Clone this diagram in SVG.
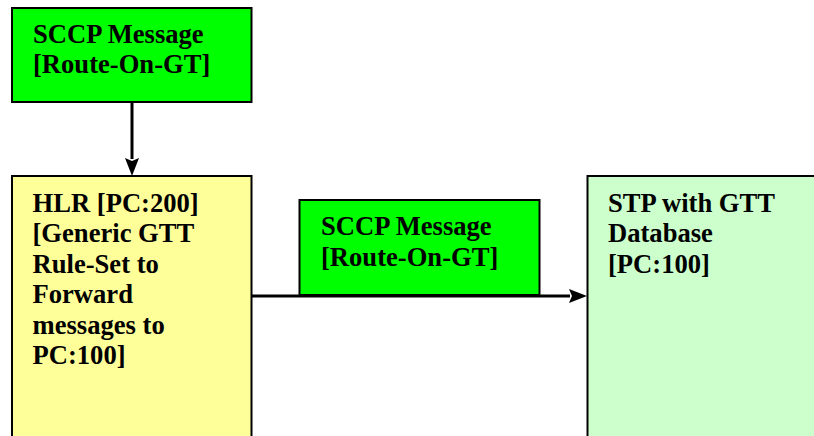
<svg xmlns="http://www.w3.org/2000/svg" width="814" height="436" viewBox="0 0 814 436">
<defs>
<style>
.box{stroke:#000;stroke-width:2}
.t{font-family:"Liberation Serif","Times New Roman",serif;font-weight:bold;font-size:26.6px;fill:#000}
.c{stroke:#000;stroke-width:3;fill:none}
</style>
<marker id="ah" viewBox="0 0 17 14" refX="0" refY="7" markerWidth="17" markerHeight="14" markerUnits="userSpaceOnUse" orient="auto" overflow="visible">
<path d="M-1,0 L17,7 L-1,14 L2,7 Z" fill="#000"/>
</marker>
</defs>
<rect width="814" height="436" fill="#fff"/>
<g id="sccp1">
<rect class="box" x="12" y="8" width="239.5" height="94" fill="#00ff00"/>
<text class="t" x="33" y="43">SCCP Message</text>
<text class="t" x="33" y="73">[Route-On-GT]</text>
</g>
<g id="hlr">
<rect class="box" x="12" y="176" width="239.5" height="270" fill="#ffff99"/>
<text class="t" x="32.5" y="211.5">HLR [PC:200]</text>
<text class="t" x="32.5" y="242">[Generic GTT</text>
<text class="t" x="32.5" y="272.5">Rule-Set to</text>
<text class="t" x="32.5" y="303">Forward</text>
<text class="t" x="32.5" y="333.5">messages to</text>
<text class="t" x="32.5" y="364">PC:100]</text>
</g>
<g id="sccp2">
<rect class="box" x="299.5" y="200" width="240" height="95" fill="#00ff00"/>
<text class="t" x="321" y="235">SCCP Message</text>
<text class="t" x="321" y="265.5">[Route-On-GT]</text>
</g>
<g id="stp">
<rect class="box" x="587.5" y="176" width="240" height="270" fill="#ccffcc"/>
<text class="t" x="608" y="211.5">STP with GTT</text>
<text class="t" x="608" y="242">Database</text>
<text class="t" x="608" y="272.5">[PC:100]</text>
</g>
<g id="connectors">
<line class="c" x1="132" y1="103" x2="132" y2="159" marker-end="url(#ah)"/>
<line class="c" x1="251" y1="296" x2="570" y2="296" marker-end="url(#ah)"/>
</g>
</svg>
